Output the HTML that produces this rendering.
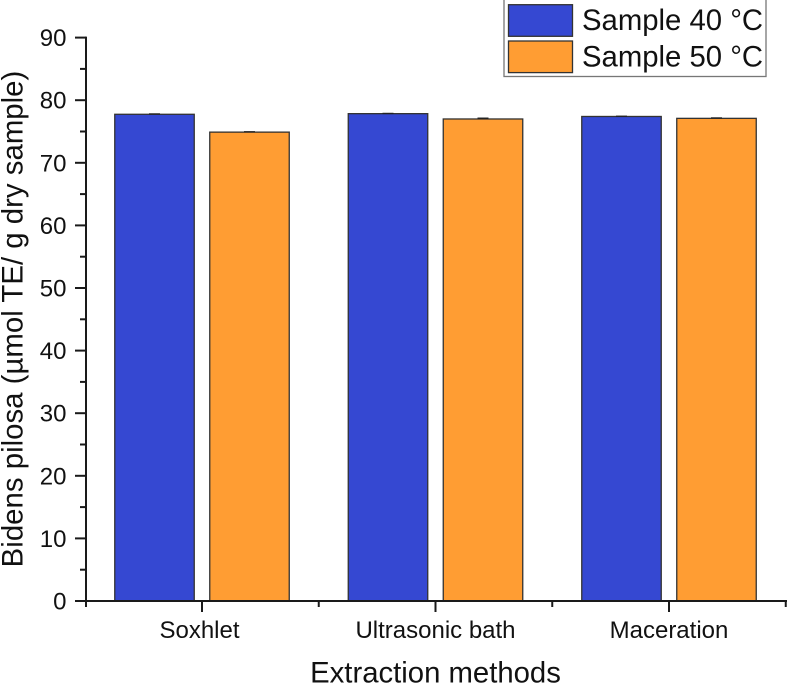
<!DOCTYPE html>
<html>
<head>
<meta charset="utf-8">
<title>Bidens pilosa chart</title>
<style>
html,body{margin:0;padding:0;background:#fff;width:787px;height:684px;overflow:hidden}
svg{display:block;font-family:"Liberation Sans",Arial,sans-serif}
text{fill:#111}
</style>
</head>
<body>
<svg id="chart" width="787" height="684" viewBox="0 0 787 684" xmlns="http://www.w3.org/2000/svg"></svg>
<script>
const categories = ["Soxhlet", "Ultrasonic bath", "Maceration"];
const sample40 = [77.75, 77.85, 77.4];
const sample50 = [74.9, 77.0, 77.1];
const err40 = [0.05, 0.03, 0.03];
const err50 = [0.05, 0.12, 0.06];
const yTicks = [0, 10, 20, 30, 40, 50, 60, 70, 80, 90];
const seriesNames = ["Sample 40 °C", "Sample 50 °C"];

const svg = document.getElementById('chart');
const NS = 'http://www.w3.org/2000/svg';
const BLUE = '#3548d2', ORANGE = '#ff9d33', AXIS = '#1a1a1a', EDGE = '#333';
const yScale = v => 601 - v * (563.4 / 90);
const catStep = 233.5;
const xCat = i => 202 + i * catStep;
const BAR_OFFSET = 47.5, BAR_W = 79.5;

function add(tag, attrs, text) {
  const el = document.createElementNS(NS, tag);
  for (const k in attrs) el.setAttribute(k, attrs[k]);
  if (text !== undefined) el.textContent = text;
  svg.appendChild(el);
  return el;
}

function drawBar(i, value, err, dir, color, key) {
  const cx = xCat(i) + dir * BAR_OFFSET;
  const top = yScale(value);
  const bar = add('rect', {x: cx - BAR_W / 2, y: top, width: BAR_W, height: 601 - top, fill: color, stroke: EDGE, 'stroke-width': 1.3});
  
  
  const cap = add('rect', {x: cx - 5.5, y: yScale(value + err) - 0.7, width: 11, height: Math.max(1.3, yScale(value - err) - yScale(value + err)), fill: '#222'});
  
  
}

categories.forEach((c, i) => {
  drawBar(i, sample40[i], err40[i], -1, BLUE, 'sample-40');
  drawBar(i, sample50[i], err50[i], 1, ORANGE, 'sample-50');
});

// Y axis
const yAxis = add('line', {x1: 86, y1: yScale(90) - 1, x2: 86, y2: 606, stroke: AXIS, 'stroke-width': 2});


yTicks.forEach((t, idx) => {
  const y = yScale(t);
  const tick = add('line', {x1: 75, y1: y, x2: 86, y2: y, stroke: AXIS, 'stroke-width': 2});
  
  
  const label = add('text', {x: 66.5, y: y + 8.5, 'text-anchor': 'end', 'font-size': 24}, String(t));
  
  
  if (idx < yTicks.length - 1) {
    const my = yScale((t + yTicks[idx + 1]) / 2);
    const minor = add('line', {x1: 80, y1: my, x2: 86, y2: my, stroke: AXIS, 'stroke-width': 2});
    
    
  }
});

// X axis
const xAxis = add('line', {x1: 75, y1: 601, x2: 787, y2: 601, stroke: AXIS, 'stroke-width': 2});


categories.forEach((c, i) => {
  const x = xCat(i);
  const tick = add('line', {x1: x, y1: 601, x2: x, y2: 612, stroke: AXIS, 'stroke-width': 2});
  
  
  const minor = add('line', {x1: x + catStep / 2, y1: 601, x2: x + catStep / 2, y2: 607, stroke: AXIS, 'stroke-width': 2});
  
  
  const label = add('text', {x: i === 0 ? x - 2.5 : x, y: 638, 'text-anchor': 'middle', 'font-size': 24}, c);
  
  
});
const minor0 = add('line', {x1: 86, y1: 601, x2: 86, y2: 607, stroke: AXIS, 'stroke-width': 2});



// Axis titles
const xTitle = add('text', {x: 435.5, y: 682.5, 'text-anchor': 'middle', 'font-size': 29.3}, 'Extraction methods');


const yTitle = add('text', {x: 0, y: 0, transform: 'translate(22.5,319) rotate(-90)', 'text-anchor': 'middle', 'font-size': 29.4}, 'Bidens pilosa (µmol TE/ g dry sample)');



// Legend
const legendBox = add('rect', {x: 504, y: -1, width: 262, height: 77.5, fill: '#fff', stroke: '#777', 'stroke-width': 1.3});


[BLUE, ORANGE].forEach((color, i) => {
  const y = 4.7 + i * 36.3;
  const sw = add('rect', {x: 508.5, y: y, width: 64, height: 31.6, fill: color, stroke: EDGE, 'stroke-width': 1.3});
  
  
  const t = add('text', {x: 582, y: y + 25.3, 'font-size': 29.3}, seriesNames[i]);
  
  
});
</script>
</body>
</html>
